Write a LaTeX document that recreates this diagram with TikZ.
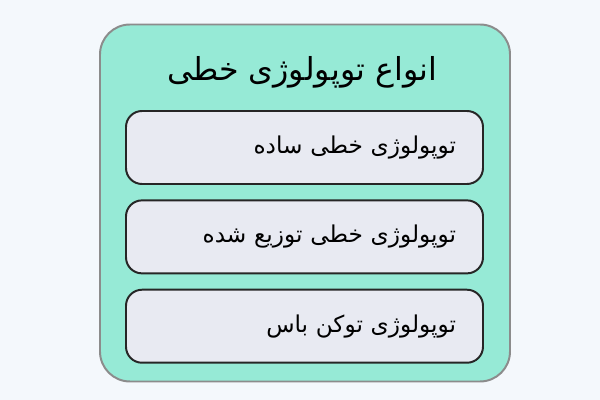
\documentclass[tikz,border=0pt]{standalone}
\usepackage{fontspec}
\newfontfamily\arabicfont[Script=Arabic]{DejaVu Sans}
\TeXXeTstate=1
\usetikzlibrary{positioning}
\definecolor{mint}{HTML}{96EAD6}
\definecolor{boxgray}{HTML}{E8EAF2}
\definecolor{pagebg}{HTML}{F4F8FC}
\tikzset{
        node distance=0.36cm, % gap between the item boxes
        group/.style={draw=gray!90, line width=1.4pt, fill=mint, rounded corners=0.75cm,
          minimum width=10.25cm, minimum height=8.925cm}, % the outer box
        item/.style={draw=black!85, line width=1.4pt, fill=boxgray, rounded corners=0.4cm,
          minimum width=8.925cm, minimum height=1.825cm, text width=7.575cm,
          align=right, inner xsep=0.675cm, font=\arabicfont\fontsize{16.5}{20}\selectfont}, % one type
        heading/.style={font=\arabicfont\fontsize{22.5}{27}\selectfont}, % the title
    }
\begin{document}
\begin{tikzpicture}
    \fill[pagebg] (0,0) rectangle (15,-10);
    \useasboundingbox (0,0) rectangle (15,-10);
    \node[group] (outer) at (7.625,-5.075) {};
    \node[heading] (title) at (7.55,-1.8) {\beginR انواع توپولوژی خطی\endR};
    \node[item] (simple) at (7.6125,-3.6875) {\beginR توپولوژی خطی ساده\endR};
    \node[item, below=of simple] (dist) {\beginR توپولوژی خطی توزیع شده\endR};
    \node[item, below=of dist] (token) {\beginR توپولوژی توکن باس\endR};
\end{tikzpicture}
\end{document}
